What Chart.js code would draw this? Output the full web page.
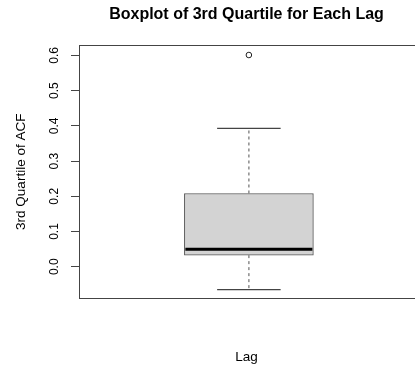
<!DOCTYPE html>
<html>
<head>
<meta charset="utf-8">
<title>Boxplot of 3rd Quartile for Each Lag</title>
<script src="https://cdn.jsdelivr.net/npm/chart.js@4.4.1/dist/chart.umd.min.js"></script>
<style>
  html, body { margin: 0; padding: 0; background: #ffffff; overflow: hidden; }
  #wrap { width: 419px; height: 367px; }
</style>
</head>
<body>
<div id="wrap"><canvas id="c" width="419" height="367"></canvas></div>
<script>
  // Five-number summary, plus the lone outlier
  var boxPosition = [1];
  var whiskerLow = [-0.065];
  var quartile1 = [0.033];
  var medians = [0.050];
  var quartile3 = [0.208];
  var whiskerHigh = [0.393];
  var outliers = [0.601];
  var yTicks = [0.0, 0.1, 0.2, 0.3, 0.4, 0.5, 0.6];

  var BOX_HALF = 0.4;   // boxwex 0.8
  var CAP_HALF = 0.2;   // staplewex 0.5
  var X_MIN = -0.07, X_MAX = 2.04;
  var Y_MIN = -0.0887, Y_MAX = 0.628;

  var FONT = 'Liberation Sans, Arial, Helvetica, sans-serif';
  var LINE = '#444444';

  function hLine(y, half) {
    return boxPosition.map(function (p, i) {
      return [{ x: p - half, y: y[i] }, { x: p + half, y: y[i] }];
    });
  }

  var datasets = [];

  // box: floating bar from Q1 to Q3
  datasets.push({
    type: 'bar',
    data: boxPosition.map(function (p, i) { return { x: p, y: [quartile1[i], quartile3[i]] }; }),
    backgroundColor: '#d3d3d3',
    borderColor: '#555555',
    borderWidth: 1,
    borderSkipped: false,
    barThickness: 129,
    order: 5
  });

  // whiskers (dashed)
  boxPosition.forEach(function (p, i) {
    [[quartile3[i], whiskerHigh[i]], [quartile1[i], whiskerLow[i]]].forEach(function (seg) {
      datasets.push({
        type: 'line',
        data: [{ x: p, y: seg[0] }, { x: p, y: seg[1] }],
        borderColor: '#7a7a7a',
        borderWidth: 1.3,
        borderDash: [3, 3],
        pointRadius: 0,
        order: 4
      });
    });
  });

  // staples
  hLine(whiskerHigh, CAP_HALF).concat(hLine(whiskerLow, CAP_HALF)).forEach(function (d) {
    datasets.push({ type: 'line', data: d, borderColor: LINE, borderWidth: 1.2, pointRadius: 0, order: 3 });
  });

  // median
  hLine(medians, BOX_HALF).forEach(function (d) {
    datasets.push({ type: 'line', data: d, borderColor: '#000000', borderWidth: 3, pointRadius: 0, order: 1 });
  });

  // outliers
  datasets.push({
    type: 'scatter',
    data: outliers.map(function (v) { return { x: boxPosition[0], y: v }; }),
    pointRadius: 2.8,
    pointBackgroundColor: '#ffffff',
    pointBorderColor: '#222222',
    pointBorderWidth: 1,
    showLine: false,
    order: 0
  });

  new Chart(document.getElementById('c'), {
    type: 'line',
    data: { datasets: datasets },
    options: {
      responsive: false,
      animation: false,
      layout: { padding: 0 },
      plugins: {
        legend: { display: false },
        tooltip: { enabled: false },
        title: {
          display: true,
          fullSize: false,   // centre over the plot region like R does
          text: 'Boxplot of 3rd Quartile for Each Lag',
          color: '#000000',
          font: { family: FONT, size: 16, weight: 'bold', lineHeight: 1.2 },
          padding: { top: 5.4, bottom: 0 }
        }
      },
      scales: {
        x: {
          type: 'linear',
          position: 'bottom',
          min: X_MIN, max: X_MAX,
          offset: false,
          ticks: { display: false },
          grid: { display: false },
          border: { display: true, color: LINE, width: 1 },
          title: {
            display: true,
            text: 'Lag',
            color: '#000000',
            font: { family: FONT, size: 13.5 },
            padding: { top: 0, bottom: 2 }
          },
          afterFit: function (s) { s.height = 69; }
        },
        x2: {
          type: 'linear',
          position: 'top',
          min: X_MIN, max: X_MAX,
          offset: false,
          ticks: { display: false },
          grid: { display: false },
          border: { display: true, color: LINE, width: 1 },
          afterFit: function (s) { s.height = 20.9; }
        },
        y: {
          type: 'linear',
          position: 'left',
          min: Y_MIN, max: Y_MAX,
          afterBuildTicks: function (s) {
            s.ticks = yTicks.map(function (v) { return { value: v }; });
          },
          ticks: {
            color: '#000000',
            font: { family: FONT, size: 12 },
            minRotation: 90,
            maxRotation: 90,
            crossAlign: 'center',
            padding: 8,
            callback: function (v) { return Number(v).toFixed(1); }
          },
          grid: {
            display: true,
            drawOnChartArea: false,
            drawTicks: true,
            tickLength: 8,
            color: LINE
          },
          border: { display: true, color: LINE, width: 1 },
          title: {
            display: true,
            text: '3rd Quartile of ACF',
            color: '#000000',
            font: { family: FONT, size: 13.5 },
            padding: { top: 13.6, bottom: 0 }
          },
          afterFit: function (s) { s.width = 79; }
        }
      }
    }
  });
</script>
</body>
</html>
